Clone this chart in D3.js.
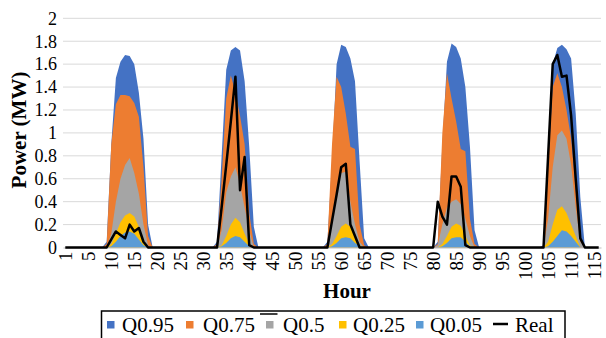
<!DOCTYPE html>
<html>
<head>
<meta charset="utf-8">
<script src="https://cdn.jsdelivr.net/npm/d3@7"></script>
<style>
    body { margin: 0; background: #fff; }
</style>
</head>
<body>
<svg id="chart" width="606" height="338"></svg>
<script>
// quantile forecasts and measured power (MW), one value per hour
const q95 = [
    0, 0, 0, 0, 0, 0, 0, 0, 0, 0.05, 0.9, 1.48, 1.62, 1.68, 1.67, 1.6, 1.35, 0.95, 0.2, 0, 0, 0, 0, 0,
    0, 0, 0, 0, 0, 0, 0, 0, 0, 0.05, 0.8, 1.55, 1.72, 1.75, 1.72, 1.45, 0.88, 0.18, 0, 0, 0, 0, 0, 0,
    0, 0, 0, 0, 0, 0, 0, 0, 0, 0.05, 0.75, 1.6, 1.77, 1.75, 1.65, 1.45, 0.75, 0.08, 0, 0, 0, 0, 0, 0,
    0, 0, 0, 0, 0, 0, 0, 0, 0, 0.05, 0.9, 1.62, 1.78, 1.75, 1.65, 1.4, 0.88, 0.15, 0, 0, 0, 0, 0, 0,
    0, 0, 0, 0, 0, 0, 0, 0, 0.02, 0.9, 1.6, 1.74, 1.77, 1.73, 1.65, 1.17, 0.44, 0, 0, 0, 0
];
const q75 = [
    0, 0, 0, 0, 0, 0, 0, 0, 0, 0.03, 0.9, 1.25, 1.33, 1.33, 1.32, 1.26, 1.14, 0.7, 0.1, 0, 0, 0, 0, 0,
    0, 0, 0, 0, 0, 0, 0, 0, 0, 0.03, 0.6, 1.3, 1.5, 1.35, 1.15, 0.9, 0.3, 0.03, 0, 0, 0, 0, 0, 0,
    0, 0, 0, 0, 0, 0, 0, 0, 0, 0.03, 0.9, 1.49, 1.4, 1.17, 0.88, 0.86, 0.2, 0.02, 0, 0, 0, 0, 0, 0,
    0, 0, 0, 0, 0, 0, 0, 0, 0, 0.03, 1.0, 1.52, 1.3, 1.1, 0.86, 0.84, 0.25, 0.03, 0, 0, 0, 0, 0, 0,
    0, 0, 0, 0, 0, 0, 0, 0, 0.01, 0.7, 1.4, 1.52, 1.4, 1.2, 0.95, 0.5, 0.08, 0, 0, 0, 0
];
const q50 = [
    0, 0, 0, 0, 0, 0, 0, 0, 0, 0, 0.12, 0.4, 0.6, 0.72, 0.78, 0.65, 0.47, 0.2, 0.02, 0, 0, 0, 0, 0,
    0, 0, 0, 0, 0, 0, 0, 0, 0, 0, 0.15, 0.48, 0.62, 0.7, 0.55, 0.35, 0.15, 0, 0, 0, 0, 0, 0, 0,
    0, 0, 0, 0, 0, 0, 0, 0, 0, 0, 0.2, 0.45, 0.65, 0.66, 0.4, 0.2, 0.05, 0, 0, 0, 0, 0, 0, 0,
    0, 0, 0, 0, 0, 0, 0, 0, 0, 0.02, 0.2, 0.35, 0.4, 0.42, 0.38, 0.25, 0.1, 0, 0, 0, 0, 0, 0, 0,
    0, 0, 0, 0, 0, 0, 0, 0, 0, 0.25, 0.7, 0.98, 1.02, 0.95, 0.72, 0.35, 0.05, 0, 0, 0, 0
];
const q25 = [
    0, 0, 0, 0, 0, 0, 0, 0, 0, 0, 0.03, 0.12, 0.22, 0.28, 0.3, 0.27, 0.18, 0.06, 0, 0, 0, 0, 0, 0,
    0, 0, 0, 0, 0, 0, 0, 0, 0, 0, 0.02, 0.1, 0.2, 0.26, 0.22, 0.12, 0.03, 0, 0, 0, 0, 0, 0, 0,
    0, 0, 0, 0, 0, 0, 0, 0, 0, 0, 0.03, 0.1, 0.18, 0.21, 0.18, 0.1, 0.02, 0, 0, 0, 0, 0, 0, 0,
    0, 0, 0, 0, 0, 0, 0, 0, 0, 0, 0.03, 0.1, 0.18, 0.21, 0.19, 0.1, 0.02, 0, 0, 0, 0, 0, 0, 0,
    0, 0, 0, 0, 0, 0, 0, 0, 0, 0.05, 0.2, 0.33, 0.36, 0.3, 0.2, 0.1, 0, 0, 0, 0, 0
];
const q05 = [
    0, 0, 0, 0, 0, 0, 0, 0, 0, 0, 0.01, 0.05, 0.1, 0.13, 0.14, 0.12, 0.07, 0.02, 0, 0, 0, 0, 0, 0,
    0, 0, 0, 0, 0, 0, 0, 0, 0, 0, 0.01, 0.04, 0.08, 0.1, 0.09, 0.05, 0.01, 0, 0, 0, 0, 0, 0, 0,
    0, 0, 0, 0, 0, 0, 0, 0, 0, 0, 0.01, 0.04, 0.08, 0.09, 0.08, 0.04, 0.01, 0, 0, 0, 0, 0, 0, 0,
    0, 0, 0, 0, 0, 0, 0, 0, 0, 0, 0.01, 0.04, 0.08, 0.09, 0.09, 0.05, 0.01, 0, 0, 0, 0, 0, 0, 0,
    0, 0, 0, 0, 0, 0, 0, 0, 0, 0.01, 0.05, 0.1, 0.15, 0.14, 0.1, 0.05, 0, 0, 0, 0, 0
];
const real = [
    0, 0, 0, 0, 0, 0, 0, 0, 0, 0, 0.07, 0.14, 0.11, 0.08, 0.2, 0.14, 0.17, 0.05, 0, 0, 0, 0, 0, 0,
    0, 0, 0, 0, 0, 0, 0, 0, 0, 0, 0.35, 0.72, 1.1, 1.49, 0.5, 0.79, 0.02, 0, 0, 0, 0, 0, 0, 0,
    0, 0, 0, 0, 0, 0, 0, 0, 0, 0, 0.23, 0.46, 0.7, 0.73, 0.2, 0.1, 0, 0, 0, 0, 0, 0, 0, 0,
    0, 0, 0, 0, 0, 0, 0, 0, 0, 0.4, 0.27, 0.2, 0.62, 0.62, 0.53, 0.02, 0, 0, 0, 0, 0, 0, 0, 0,
    0, 0, 0, 0, 0, 0, 0, 0, 0, 0.8, 1.6, 1.68, 1.49, 1.5, 1.15, 0.6, 0.08, 0, 0, 0, 0
];

const seriesNames = ['Q0.95', 'Q0.75', 'Q0.5', 'Q0.25', 'Q0.05'];
const xTickIdx = [0, 5, 10, 15, 20, 25, 30, 35, 40, 45, 50, 55, 60, 65, 70, 75, 80, 85, 90, 95, 100, 105, 110, 115];
const xTickLabels = ['1', '5', '10', '15', '20', '25', '30', '35', '40', '45', '50', '55', '60', '65', '70', '75', '80', '85', '90', '95', '100', '105', '110', '115'];
const yTicks = [0, 0.2, 0.4, 0.6, 0.8, 1, 1.2, 1.4, 1.6, 1.8, 2];

const series = [q95, q75, q50, q25, q05];
const colors = ['#4472C4', '#ED7D31', '#A5A5A5', '#FFC000', '#5B9BD5'];
const font = "'Liberation Serif', 'Times New Roman', Tinos, 'DejaVu Serif', serif";

const plot = {left: 63, right: 601, top: 18.3, bottom: 247.5};

const svg = d3.select('#chart');

// category axis, one band per hour
const x = d3.scaleBand().domain(real.map((d, i) => i)).range([plot.left, plot.right]);
const y = d3.scaleLinear().domain([0, 2]).range([plot.bottom, plot.top]);
const cx = i => x(i) + x.bandwidth() / 2;

// gridlines
svg.append('g').selectAll('line')
    .data(yTicks.filter(t => t > 0))
    .enter().append('line')
    .attr('x1', plot.left).attr('x2', plot.right)
    .attr('y1', d => y(d)).attr('y2', d => y(d))
    .attr('stroke', '#d9d9d9').attr('stroke-width', 1);

// y labels
svg.append('g').selectAll('text')
    .data(yTicks)
    .enter().append('text')
    .attr('x', 57).attr('y', d => y(d)).attr('dy', '0.35em')
    .attr('text-anchor', 'end')
    .style('font-family', font)
    .style('font-size', '18px')
    .text(d => d3.format('~g')(d));

// quantile areas, widest first
const area = d3.area()
    .x((d, i) => cx(i))
    .y0(y(0))
    .y1(d => y(d));

series.forEach((s, k) => {
    svg.append('path')
        .attr('class', 'area')
        .style('fill', colors[k])
        .attr('d', area(s));
});

// Add the X Axis
const xAxis = svg.append('g')
    .attr('transform', `translate(0,${plot.bottom})`)
    .call(d3.axisBottom(x).tickValues(xTickIdx).tickSize(0).tickSizeOuter(0)
        .tickFormat((d, i) => xTickLabels[i]));
xAxis.select('.domain').attr('stroke', '#bfbfbf');
xAxis.selectAll('text')
    .attr('fill', '#000')
    .style('font-family', font)
    .style('font-size', '19px')
    .attr('transform', 'rotate(-90)')
    .attr('text-anchor', 'end')
    .attr('x', -4).attr('y', 0).attr('dy', '0.35em');

// measured power
const realLine = d3.line()
    .x((d, i) => cx(i))
    .y(d => y(d));
svg.append('path')
    .style('stroke', '#000')
    .style('stroke-width', 2.5)
    .style('stroke-linejoin', 'round')
    .style('fill', 'none')
    .attr('d', realLine(real));

// axis titles
svg.append('text')
    .attr('x', 347).attr('y', 298)
    .attr('text-anchor', 'middle')
    .style('font-family', font)
    .style('font-size', '21px').style('font-weight', 'bold')
    .text('Hour');

svg.append('text')
    .attr('transform', 'translate(26,130) rotate(-90)')
    .attr('text-anchor', 'middle')
    .style('font-family', font)
    .style('font-size', '21px').style('font-weight', 'bold')
    .text('Power (MW)');

// legend
const legend = svg.append('g');
legend.append('rect')
    .attr('x', 101.5).attr('y', 311).attr('width', 463.5).attr('height', 40)
    .attr('fill', '#fff').attr('stroke', '#000').attr('stroke-width', 1.5);

const swatchX = [107, 186, 266, 339, 416];
const labelX = [122, 203, 283, 353, 430];
seriesNames.forEach((name, k) => {
    legend.append('rect')
        .attr('x', swatchX[k]).attr('y', 321).attr('width', 7.5).attr('height', 7.5)
        .attr('fill', colors[k]);
    legend.append('text')
        .attr('x', labelX[k]).attr('y', 331.5)
        .style('font-family', font)
        .style('font-size', '21px')
        .text(name);
});
legend.append('line')
    .attr('x1', 260).attr('x2', 277.5).attr('y1', 314).attr('y2', 314)
    .attr('stroke', '#000').attr('stroke-width', 1.5);
legend.append('line')
    .attr('x1', 493).attr('x2', 508).attr('y1', 324).attr('y2', 324)
    .attr('stroke', '#000').attr('stroke-width', 2.5);
legend.append('text')
    .attr('x', 515).attr('y', 331.5)
    .style('font-family', font)
    .style('font-size', '21px')
    .text('Real');
</script>
</body>
</html>
